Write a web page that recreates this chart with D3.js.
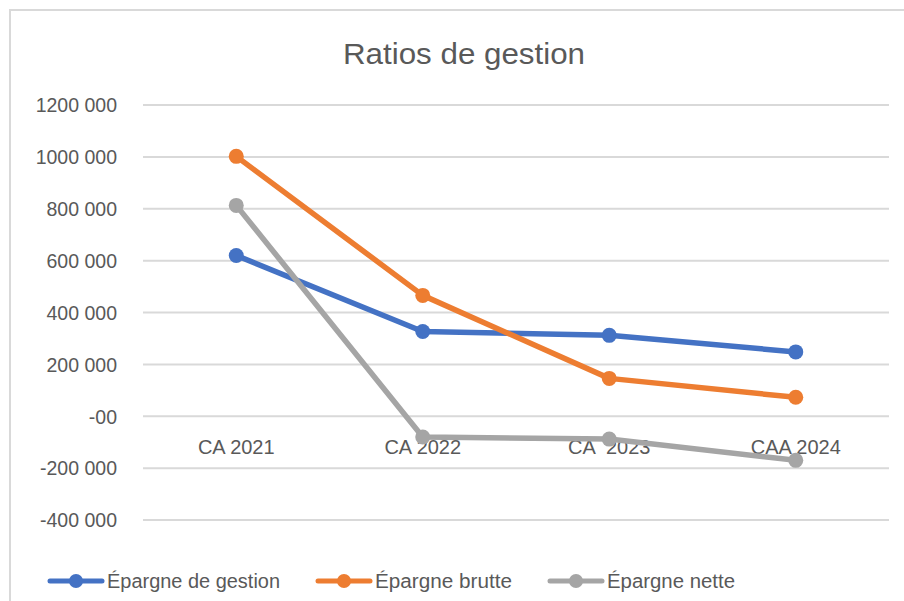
<!DOCTYPE html>
<html>
<head>
<meta charset="utf-8">
<script src="https://cdn.jsdelivr.net/npm/d3@7"></script>
<style>
  body { margin: 0; background: #fff; }
  text { font-family: 'Liberation Sans', Arial, sans-serif; fill: #595959; }
</style>
</head>
<body>
<div class="canvas"></div>
<script>
// Data
const categories = ['CA 2021', 'CA 2022', 'CA  2023', 'CAA 2024']
const epargneGestion = [620000, 327000, 312000, 248000]
const epargneBrute = [1002000, 466000, 146000, 73000]
const epargneNette = [813000, -80000, -88000, -170000]
const yTicks = [-400000, -200000, 0, 200000, 400000, 600000, 800000, 1000000, 1200000]
const seriesNames = ['Épargne de gestion', 'Épargne brutte', 'Épargne nette']

const series = [
  { name: seriesNames[0], values: epargneGestion, color: '#4472C4' },
  { name: seriesNames[1], values: epargneBrute, color: '#ED7D31' },
  { name: seriesNames[2], values: epargneNette, color: '#A5A5A5' }
]

const dims = { width: 904, height: 601 }
const plot = { left: 143, right: 889, top: 105, bottom: 520 }

const svg = d3.select('.canvas')
  .append('svg')
    .attr('width', dims.width)
    .attr('height', dims.height)

// Chart frame
svg.append('path')
  .attr('d', `M10,${dims.height + 5} L10,10 L${dims.width + 5},10`)
  .attr('fill', 'none')
  .attr('stroke', '#D9D9D9')
  .attr('stroke-width', 2)

// Title
svg.append('text')
  .attr('x', 464)
  .attr('y', 64)
  .attr('text-anchor', 'middle')
  .attr('font-size', 30)
  .attr('textLength', 242)
  .attr('lengthAdjust', 'spacingAndGlyphs')
  .text('Ratios de gestion')

const x = d3.scaleBand()
  .domain(categories)
  .range([plot.left, plot.right])

const y = d3.scaleLinear()
  .domain([-400000, 1200000])
  .range([plot.bottom, plot.top])

// Tick label format: "1200 000", "-00" for zero (as in the source)
const fmt = v => {
  if (v === 0) return '-00'
  const s = Math.abs(v).toString()
  const head = s.slice(0, s.length - 3)
  return (v < 0 ? '-' : '') + head + ' ' + s.slice(-3)
}

// Gridlines
svg.append('g')
  .selectAll('line')
  .data(yTicks)
  .enter()
  .append('line')
    .attr('x1', plot.left)
    .attr('x2', plot.right)
    .attr('y1', d => y(d))
    .attr('y2', d => y(d))
    .attr('stroke', '#D9D9D9')
    .attr('stroke-width', 2)

// Y axis labels
const yAxis = d3.axisLeft(y)
  .tickValues(yTicks)
  .tickFormat(fmt)
  .tickSize(0)
  .tickPadding(0)

const yAxisGroup = svg.append('g')
  .attr('transform', `translate(117, 0)`)
  .call(yAxis)
yAxisGroup.select('.domain').remove()
yAxisGroup.selectAll('text')
  .attr('font-size', 19.5)
  .attr('font-family', "'Liberation Sans', Arial, sans-serif")
  .attr('fill', '#595959')
  .attr('dy', '0.35em')

// Category labels sit just under the zero line
const xAxis = d3.axisBottom(x).tickSize(0).tickPadding(0)
const xAxisGroup = svg.append('g')
  .attr('transform', `translate(0, ${y(0)})`)
  .call(xAxis)
xAxisGroup.select('.domain').remove()
xAxisGroup.selectAll('text')
  .attr('font-size', 20)
  .attr('font-family', "'Liberation Sans', Arial, sans-serif")
  .attr('fill', '#595959')
  .attr('dy', null)
  .attr('y', 38)
  .style('white-space', 'pre')

// Lines and markers
const line = d3.line()
  .x((d, i) => x(categories[i]) + x.bandwidth() / 2)
  .y(d => y(d))

const seriesGroup = svg.append('g')

series.forEach(s => {
  seriesGroup.append('path')
    .attr('d', line(s.values))
    .attr('fill', 'none')
    .attr('stroke', s.color)
    .attr('stroke-width', 5.5)
    .attr('stroke-linejoin', 'round')
    .attr('stroke-linecap', 'round')

  seriesGroup.selectAll(null)
    .data(s.values)
    .enter()
    .append('circle')
      .attr('cx', (d, i) => x(categories[i]) + x.bandwidth() / 2)
      .attr('cy', d => y(d))
      .attr('r', 7.5)
      .attr('fill', s.color)
})

// Legend
const legendX = [50, 318, 550]
const legendW = [173, 137, 128]
const legend = svg.append('g')
  .attr('transform', 'translate(0, 581)')

series.forEach((s, i) => {
  const g = legend.append('g')
    .attr('transform', `translate(${legendX[i]}, 0)`)
  g.append('line')
    .attr('x1', 0).attr('x2', 52)
    .attr('y1', 0).attr('y2', 0)
    .attr('stroke', s.color)
    .attr('stroke-width', 5)
    .attr('stroke-linecap', 'round')
  g.append('circle')
    .attr('cx', 26).attr('cy', 0).attr('r', 7)
    .attr('fill', s.color)
  g.append('text')
    .attr('x', 57)
    .attr('y', 7)
    .attr('font-size', 20)
    .attr('textLength', legendW[i])
    .attr('lengthAdjust', 'spacingAndGlyphs')
    .text(s.name)
})
</script>
</body>
</html>
